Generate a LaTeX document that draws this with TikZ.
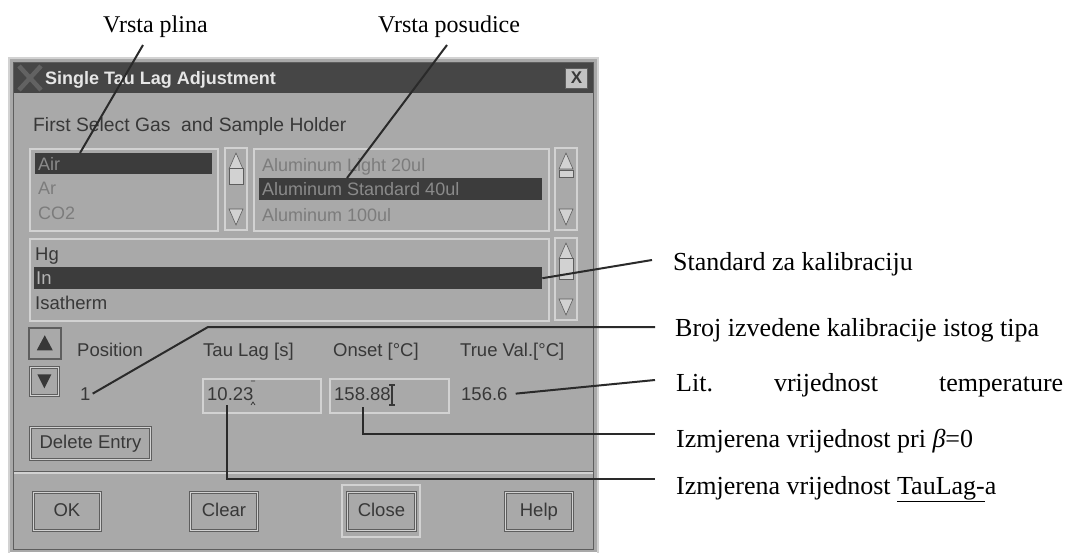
\documentclass[tikz,border=0pt]{standalone}
\usepackage{fontspec}
\setmainfont{Liberation Serif}
\newfontfamily\uifont{Liberation Sans}
\usepackage{xcolor}
\usepackage{tikz}

\definecolor{dlgbg}{HTML}{A9A9A9}
\definecolor{dlgdark}{HTML}{5E5E5E}
\definecolor{dlglight}{HTML}{D2D2D2}
\definecolor{titlebar}{HTML}{464646}
\definecolor{titletext}{HTML}{E6E6E6}
\definecolor{logo}{HTML}{626262}
\definecolor{closebg}{HTML}{C2C2C2}
\definecolor{selrow}{HTML}{3C3C3C}
\definecolor{uitext}{HTML}{383838}
\definecolor{greytext}{HTML}{7C7C7C}
\definecolor{seltext}{HTML}{8A8A8A}
\definecolor{seltexttwo}{HTML}{B4B4B4}
\definecolor{leadline}{HTML}{2A2A2A}

\begin{document}
\begin{tikzpicture}[x=1pt, y=-1pt,
    ui/.style={font=\uifont\fontsize{18.5}{20}\selectfont, text=uitext, inner sep=0pt},
    faint/.style={font=\uifont\fontsize{18}{20}\selectfont, text=greytext, inner sep=0pt, anchor=base west},
    sunken/.style={draw=dlglight, line width=2pt, fill=dlgbg},
    btn/.style={ui, draw=dlgdark, double=dlglight, double distance=1.5pt, line width=0.8pt, fill=dlgbg, anchor=north west, text height=13.5pt, text depth=3.5pt},
    row/.style={fill=selrow, inner sep=0pt, anchor=north west},
    arrowtri/.style={fill=dlglight, draw=dlgdark, line width=0.6pt},
    leader/.style={draw=leadline, line width=2pt},
    note/.style={font=\fontsize{26}{30}\selectfont, inner sep=0pt, anchor=base west}
]
    % page
    \path[use as bounding box, fill=white] (0,0) rectangle (1065,552);

    % window frame
    \fill[dlgbg] (9,58) rectangle (598,552);
    \draw[dlglight, line width=2pt] (9,58) rectangle (598,560);
    \draw[dlgdark, line width=1pt] (13.5,62.5) rectangle (593.5,549.5);

    % title bar
    \fill[titlebar] (14,63) rectangle (593,93);
    \draw[logo, line width=4.5pt] (19,66) -- (41,90) (41,66) -- (19,90);
    \node[font=\uifont\bfseries\fontsize{18}{20}\selectfont, text=titletext, inner sep=0pt, anchor=base west] (title) at (45,84.5) {Single Tau Lag Adjustment};
    \node[draw=dlgdark, fill=closebg, minimum width=22pt, minimum height=20pt, inner sep=0pt, font=\uifont\bfseries\fontsize{17}{17}\selectfont, text=uitext] (closex) at (576.5,78) {X};

    % gas and holder lists
    \node[ui, anchor=base west, font=\uifont\fontsize{19.3}{21}\selectfont] (prompt) at (33,131.5) {First Select Gas\ \ and Sample Holder};
    \node[sunken, anchor=north west, minimum width=188pt, minimum height=82pt] (gasbox) at (29,148) {};
    \node[row, minimum width=177pt, minimum height=21pt] (gasrow) at (35,153) {};
    \node[faint, text=seltext] (air) at (38,170.5) {Air};
    \node[faint] (ar) at (38,194.5) {Ar};
    \node[faint] (cotwo) at (38,219.5) {CO2};

    \node[sunken, anchor=north west, minimum width=295pt, minimum height=82pt] (panbox) at (253,148) {};
    \node[row, minimum width=283pt, minimum height=22pt] (panrow) at (259,178) {};
    \node[faint] (panlight) at (262,171.5) {Aluminum Light 20ul};
    \node[faint, text=seltext] (panstd) at (262,195.5) {Aluminum Standard 40ul};
    \node[faint] (panhund) at (262,221.5) {Aluminum 100ul};

    % standards list
    \node[sunken, anchor=north west, minimum width=519pt, minimum height=82pt] (stdbox) at (29,238) {};
    \node[row, minimum width=508pt, minimum height=22pt] (inrow) at (34,267) {};
    \node[ui, anchor=base west] (hg) at (35,260.6) {Hg};
    \node[ui, anchor=base west, text=seltexttwo] (indium) at (36,284.5) {In};
    \node[ui, anchor=base west] (isatherm) at (35,309.6) {Isatherm};

    % scroll bars
    \foreach \sx/\sy/\ty/\th in {225/148/168/16, 555/148/170/7, 555/238/258/21}{
        \draw[sunken] (\sx,\sy) rectangle ++(22,82);
        \filldraw[arrowtri] (\sx+4,\sy+21) -- (\sx+18,\sy+21) -- (\sx+11,\sy+5) -- cycle;
        \filldraw[arrowtri] (\sx+4,\sy+61) -- (\sx+18,\sy+61) -- (\sx+11,\sy+77) -- cycle;
        \filldraw[arrowtri] (\sx+4,\ty) rectangle ++(14,\th);
    }

    % position buttons
    \node[draw=dlgdark, fill=dlgbg, line width=1.5pt, anchor=north west, minimum width=32pt, minimum height=31pt] (posup) at (28,327) {};
    \fill[uitext] (posup.center) ++(-8,7) -- ++(16,0) -- ++(-8,-15) -- cycle;
    \node[btn, minimum width=28pt, minimum height=28pt] (posdown) at (30,367) {};
    \fill[uitext] (posdown.center) ++(-7,-7) -- ++(14,0) -- ++(-7,14) -- cycle;

    % values
    \node[ui, anchor=base west] (poslabel) at (77,356) {Position};
    \node[ui, anchor=base west] (taulabel) at (203,356) {Tau Lag [s]};
    \node[ui, anchor=base west] (onsetlabel) at (333,356) {Onset [°C]};
    \node[ui, anchor=base west] (truelabel) at (460,356) {True Val.[°C]};
    \node[ui, anchor=base west] (posone) at (80,400) {1};
    \node[sunken, anchor=north west, minimum width=118pt, minimum height=34pt] (taufield) at (202,378) {};
    \node[ui, anchor=base west] (tauval) at (207,400) {10.23};
    \draw[uitext, line width=0.8pt] (251,381) -- (255,381) (251,405) -- (253,402) -- (255,405);
    \node[sunken, anchor=north west, minimum width=119pt, minimum height=34pt] (onsetfield) at (329,378) {};
    \node[ui, anchor=base west] (onsetval) at (334,400) {158.88};
    \draw[uitext, line width=1.2pt] (392,385) -- (392,405) (389,385) -- (395,385) (389,405) -- (395,405);
    \node[ui, anchor=base west] (trueval) at (461,400) {156.6};

    \node[btn, minimum width=120pt, minimum height=32pt] (delete) at (30,427) {Delete Entry};

    % separator
    \draw[dlgdark, line width=1pt] (14,471) -- (593,471);
    \draw[dlglight, line width=1.5pt] (14,473) -- (593,473);

    % bottom buttons
    \node[btn, minimum width=67pt, minimum height=38pt] (ok) at (33,492) {OK};
    \node[btn, minimum width=67pt, minimum height=38pt] (clear) at (190,492) {Clear};
    \draw[dlglight, line width=1.5pt] (342,485) rectangle (420,537);
    \node[btn, minimum width=68pt, minimum height=38pt] (close) at (347,492) {Close};
    \node[btn, minimum width=67pt, minimum height=38pt] (help) at (505,492) {Help};

    % notes
    \node[note, font=\fontsize{24}{28}\selectfont] (plina) at (103,32) {Vrsta plina};
    \node[note, font=\fontsize{24}{28}\selectfont] (posud) at (378,32) {Vrsta posudice};
    \node[note] (stdnote) at (673,270.6) {Standard za kalibraciju};
    \node[note] (brojnote) at (675,336) {Broj izvedene kalibracije istog tipa};
    \node[note] (litnote) at (676,391) {\makebox[387pt][l]{Lit.\hfill vrijednost\hfill temperature}};
    \node[note] (betanote) at (676,447) {Izmjerena vrijednost pri {\itshape β}=0};
    \node[note] (taunote) at (676,494) {Izmjerena vrijednost \underline{TauLag-}a};

    % leader lines
    \coordinate (plinatop) at (143,45);
    \coordinate (plinaend) at (80,153);
    \coordinate (posudtop) at (447,45);
    \coordinate (posudend) at (347,178);
    \coordinate (stdend) at (652,260);
    \coordinate (brojbend) at (208,327);
    \coordinate (brojend) at (655,327);
    \coordinate (litend) at (655,380);
    \coordinate (onsetpin) at (363,407);
    \coordinate (betaend) at (655,434);
    \coordinate (taupin) at (227,405);
    \coordinate (taulagend) at (655,479);

    \draw[leader] (plinatop) -- (plinaend);
    \draw[leader] (posudtop) -- (posudend);
    \draw[leader] (inrow.east) -- (stdend);
    \draw[leader] ([xshift=2pt]posone.east) -- (brojbend) -- (brojend);
    \draw[leader] ([xshift=8pt]trueval.east) -- (litend);
    \draw[leader] (onsetpin) |- (betaend);
    \draw[leader] (taupin) |- (taulagend);
\end{tikzpicture}
\end{document}
